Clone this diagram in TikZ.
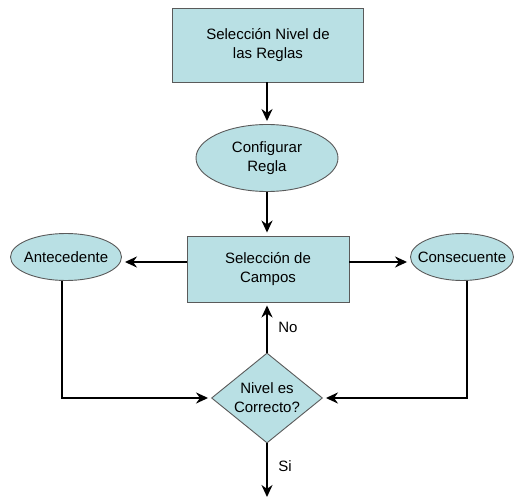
\documentclass[tikz,border=0pt]{standalone}
\usepackage{fontspec}
\setmainfont{Liberation Sans}
\usetikzlibrary{shapes.geometric,arrows.meta}

\definecolor{celeste}{RGB}{185,224,228}
\definecolor{borde}{RGB}{90,90,90}

\begin{document}
\begin{tikzpicture}[x=1pt, y=-1pt, line width=2pt,
    caja/.style={draw=borde, line width=0.9pt, fill=celeste, align=center,
      inner sep=0pt, font=\fontsize{15}{19}\selectfont},
    elipse/.style={caja, ellipse, inner xsep=-20pt},
    rombo/.style={caja, diamond, aspect=1.25},
    etiqueta/.style={right=7pt, font=\fontsize{15}{18}\selectfont},
    flecha/.style={-{Stealth[length=12pt,width=11pt]}, shorten >=3pt}]
    \useasboundingbox (0,0) rectangle (514,500);

    % draw boxes
    \node[caja, minimum width=191, minimum height=74] (nivel) at (268,45)
      {Selección Nivel de\\las Reglas};
    \node[elipse, minimum width=142, minimum height=67] (regla) at (267,158)
      {Configurar\\Regla};
    \node[caja, minimum width=162, minimum height=66] (campos) at (268,269)
      {Selección de\\Campos};
    \node[elipse, minimum width=111, minimum height=47] (ante) at (66,257)
      {Antecedente};
    \node[elipse, minimum width=103, minimum height=47] (cons) at (462,257)
      {Consecuente};
    \node[rombo, minimum width=111, minimum height=90] (correcto) at (267,398)
      {Nivel es\\Correcto?};
    \coordinate (fin) at (267,497);

    % draw arrows
    \draw[flecha] (nivel.south -| regla) -- (regla.north);
    \draw[flecha] (regla.south) -- (regla.south |- campos.north);
    \draw[flecha] (campos.west |- 0,262) -- (ante.east |- 0,262);
    \draw[flecha] (campos.east |- 0,262) -- (cons.west |- 0,262);
    \draw[flecha] (ante.south -| 62,0) |- (correcto.west);
    \draw[flecha] (cons.south -| 467,0) |- (correcto.east);
    \draw[flecha] (correcto.north) -- node[etiqueta] (no) {No}
      (correcto.north |- campos.south);
    \draw[flecha, shorten >=0pt] (correcto.south) -- node[etiqueta, yshift=4pt] (si) {Si} (fin);
\end{tikzpicture}
\end{document}
